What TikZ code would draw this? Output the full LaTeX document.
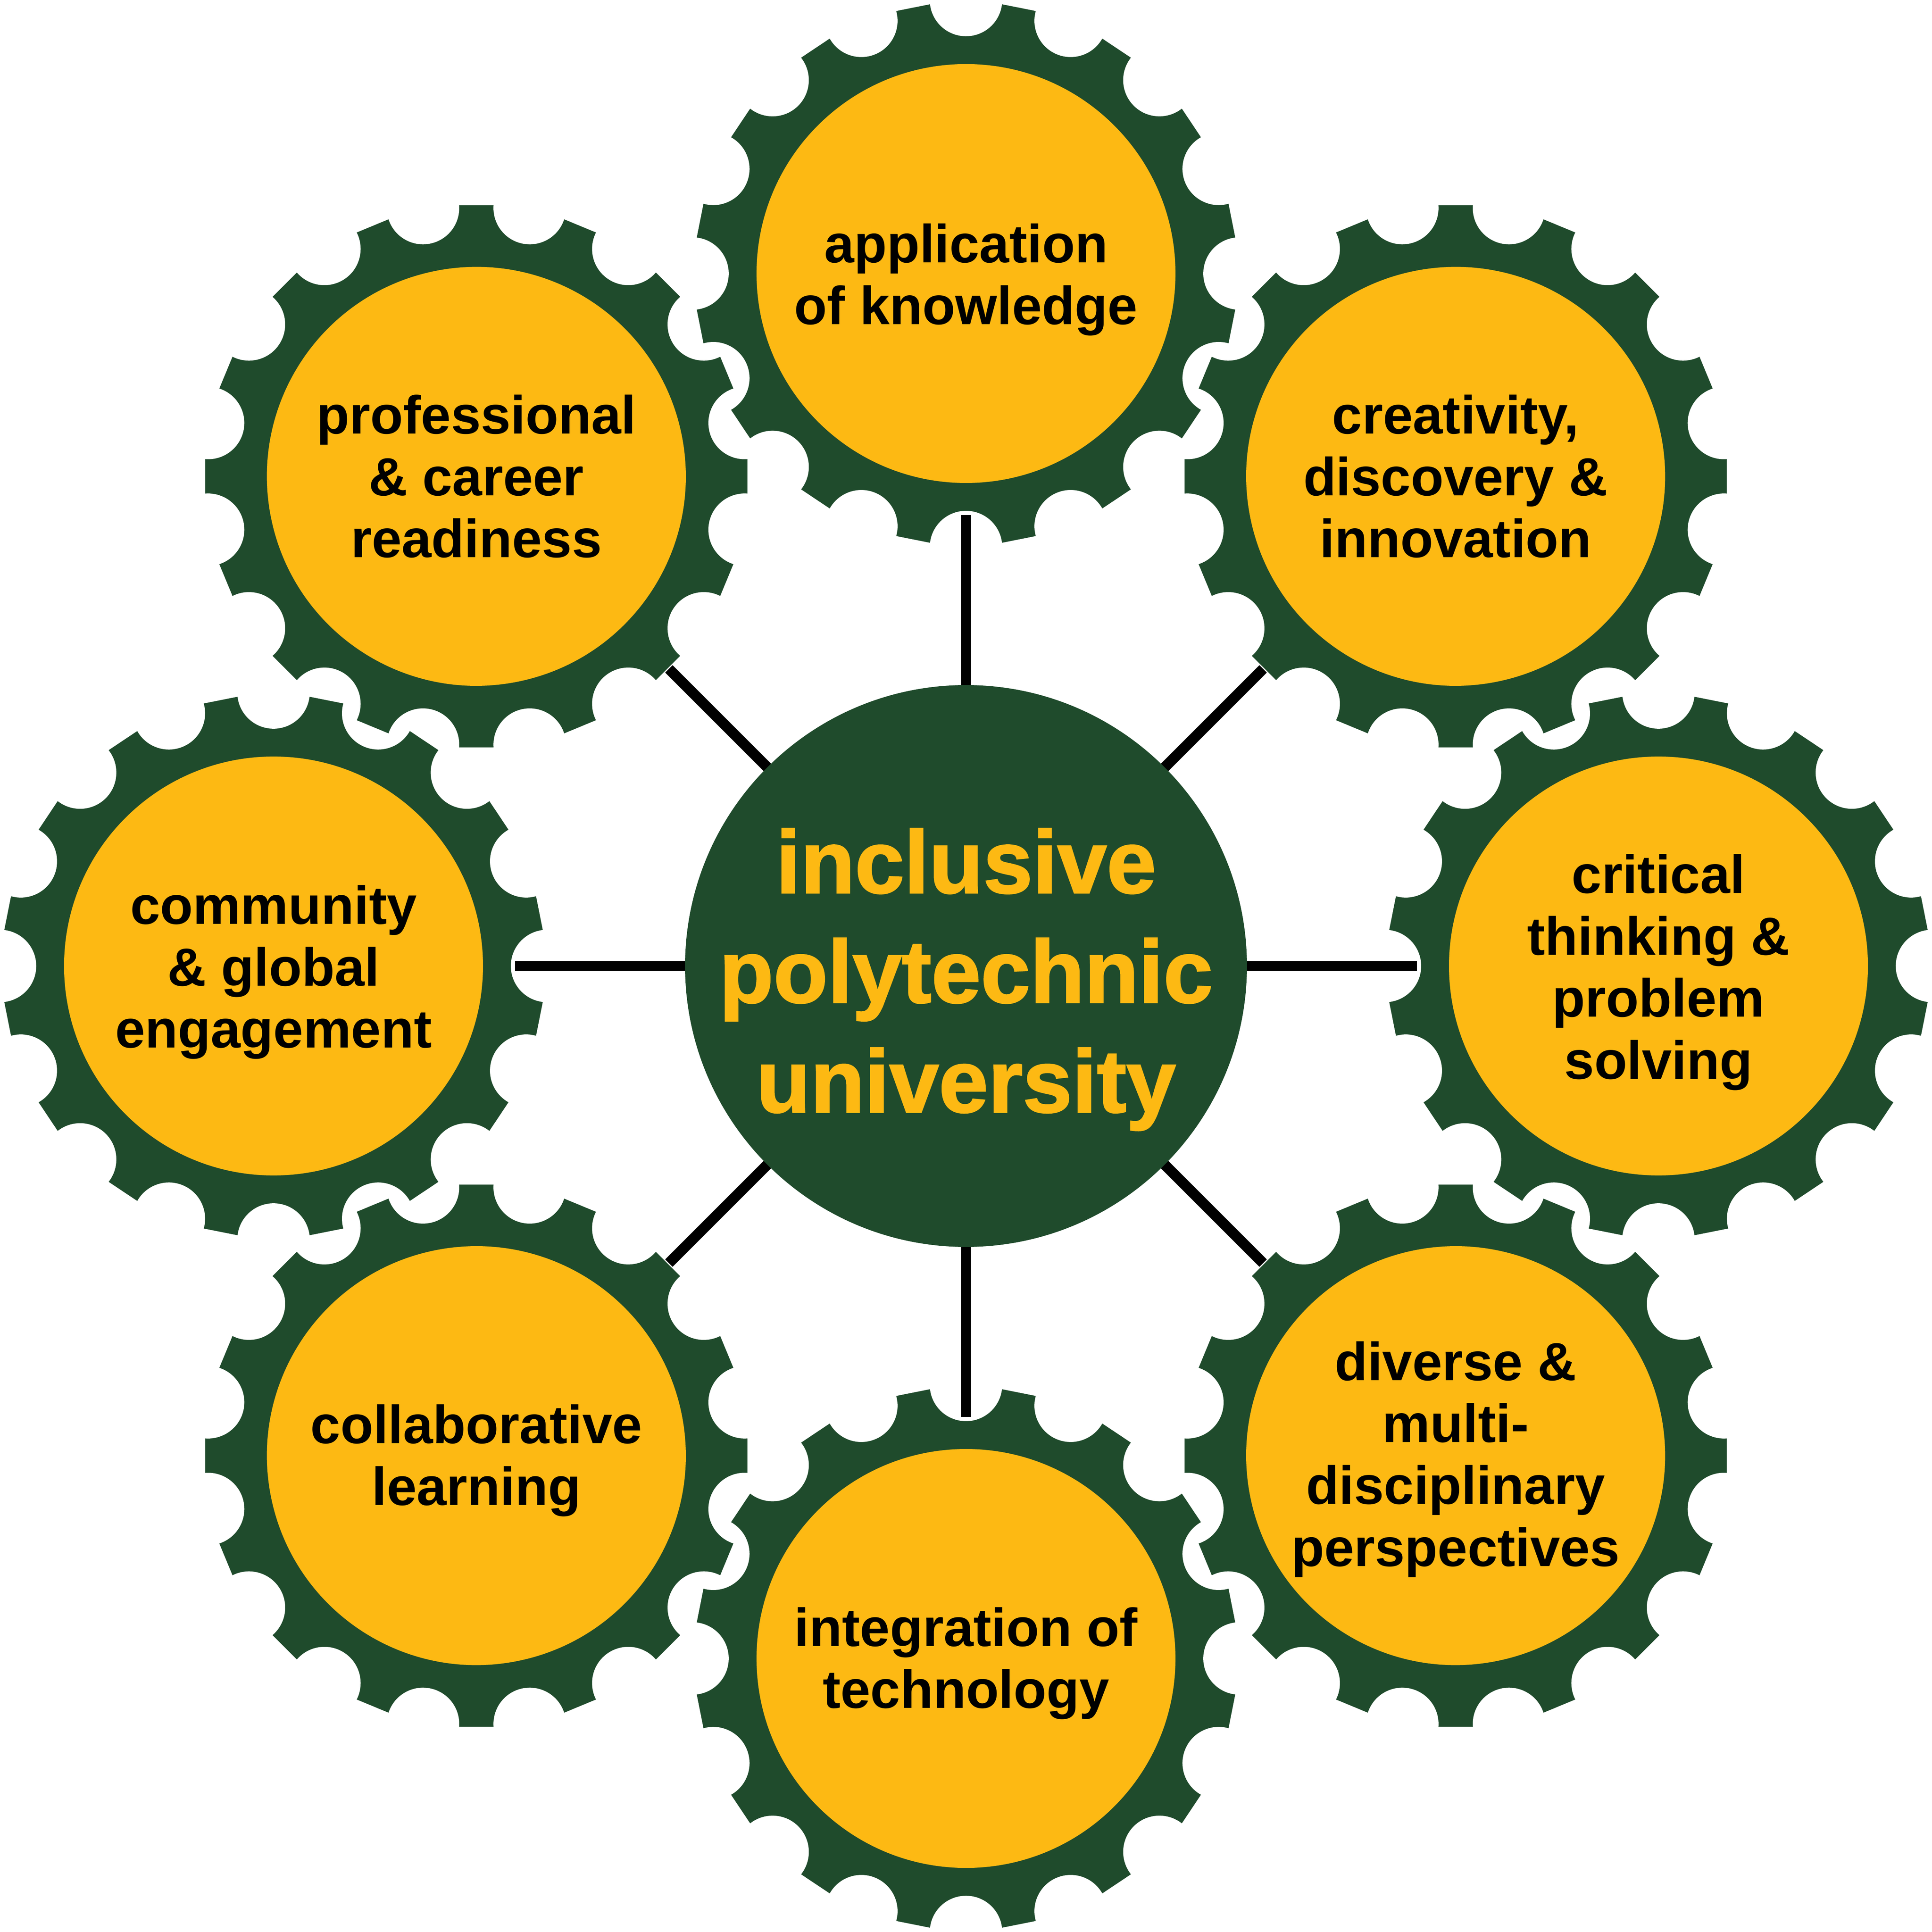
\documentclass[tikz,border=0pt]{standalone}
\usepackage{fontspec}
\setmainfont{Liberation Sans}
\newfontfamily\heavy{Liberation Sans Bold}[FakeBold=1.6]
\usetikzlibrary{calc}
\definecolor{gg}{HTML}{1F4B2C}
\definecolor{yy}{HTML}{FDB913}
\begin{document}
\begin{tikzpicture}[x=0.01cm,y=0.01cm,
  lbl/.style={align=center,font=\fontsize{12.4}{14.3}\selectfont\bfseries,text=black},
  spoke/.style={line width=2.4pt,black},
  gearbody/.style={fill=gg,draw=white,line width=0.8pt},
  hub/.style={fill=yy}]
\useasboundingbox (0,0) rectangle (1568,1568);
\coordinate (c) at (784,784);
\def\dd{7.23}\def\hh{3.615}
\foreach \a/\r in {90/0,45/11.25,0/0,-45/11.25,-90/0,-135/11.25,180/0,135/11.25}{
  \begin{scope}[shift={($(c)+(\a:562)$)},rotate=\r]
  \path[gearbody] (-\dd:222)
    \foreach \k in {0,...,15}{
      arc[start angle={\k*22.5-\hh-90}, end angle={\k*22.5+\hh-270}, radius=28]
      -- ({\k*22.5+22.5-\dd}:222)
    } -- cycle;
  \fill[hub] (0,0) circle[radius=170];
  \end{scope}
}
\foreach \a/\l in {90/366,45/341,0/366,-45/341,-90/366,-135/341,180/366,135/341}{
  \draw[spoke] (c) -- ($(c)+(\a:\l)$);
}
\node[lbl] (g1) at ($(c)+(90:562)+(0,-5)$) {application\\of knowledge};
\node[lbl] (g2) at ($(c)+(45:562)$) {creativity,\\discovery \&\\innovation};
\node[lbl] (g3) at ($(c)+(0:562)+(0,-5)$) {critical\\thinking \&\\problem\\solving};
\node[lbl] (g4) at ($(c)+(-45:562)+(0,-3)$) {diverse \&\\multi-\\disciplinary\\perspectives};
\node[lbl] (g5) at ($(c)+(-90:562)+(0,-4)$) {integration of\\technology};
\node[lbl] (g6) at ($(c)+(-135:562)+(0,-4)$) {collaborative\\learning};
\node[lbl] (g7) at ($(c)+(180:562)+(0,-5)$) {community\\\& global\\engagement};
\node[lbl] (g8) at ($(c)+(135:562)$) {professional\\\& career\\readiness};
\fill[gg] (c) circle[radius=228];
\node[align=center,text=yy,font=\fontsize{20.5}{25.3}\heavy] (ctr) at (784,773) {inclusive\\polytechnic\\university};
\end{tikzpicture}
\end{document}
